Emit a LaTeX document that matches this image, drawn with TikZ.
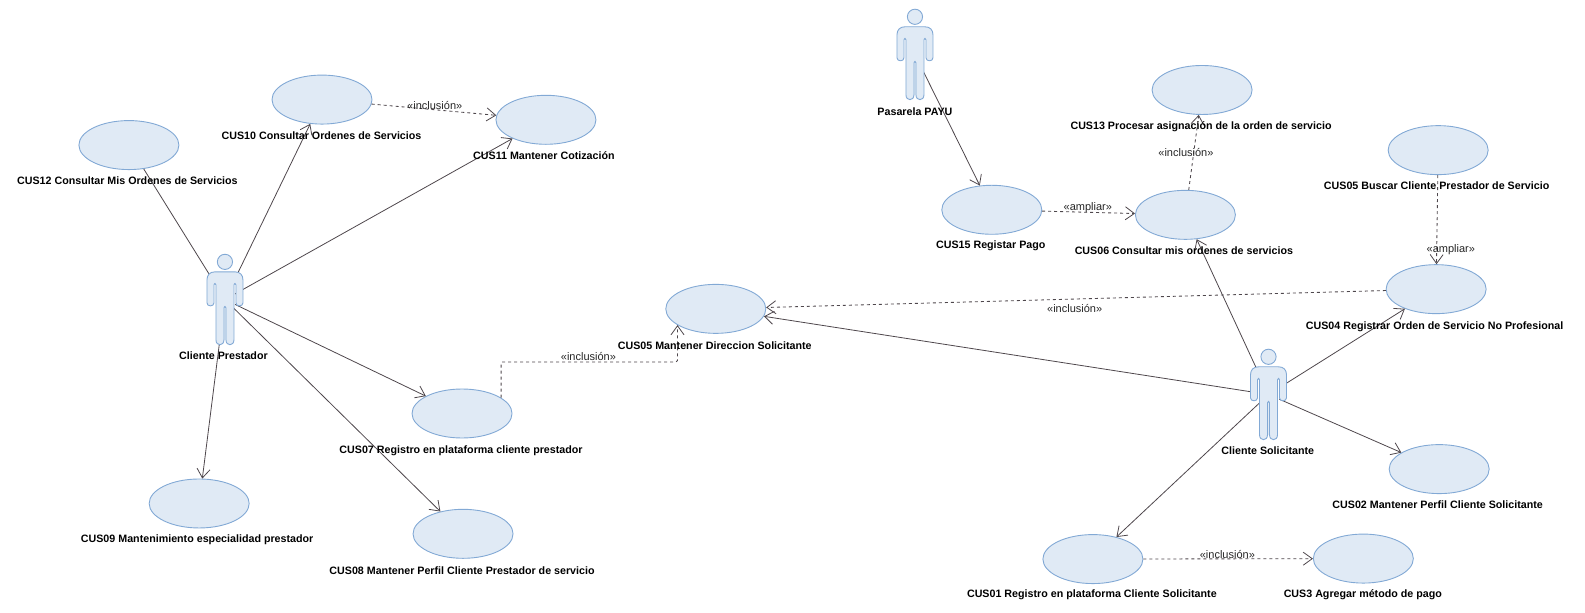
\documentclass[tikz,border=0pt]{standalone}
\usepackage{fontspec}
\setmainfont{Liberation Sans}
\usetikzlibrary{arrows.meta,shapes.geometric}
\definecolor{ucfill}{HTML}{E0EAF5}
\definecolor{ucline}{HTML}{82A9D5}
\definecolor{conn}{HTML}{4E474C}
\tikzset{
  usecase/.style={ellipse,draw=ucline,fill=ucfill,line width=0.9pt,minimum width=100pt,minimum height=49pt,inner sep=0pt},
  actorbox/.style={rectangle,minimum width=36pt,minimum height=91pt,inner sep=0pt},
  uclabel/.style={font=\bfseries\fontsize{10.7}{12}\selectfont,text=black,inner sep=0pt},
  stereo/.style={font=\fontsize{11}{12}\selectfont,text=black!85,inner sep=0pt},
  assoc/.style={conn,line width=0.8pt,-{Straight Barb[length=9pt,width=13pt,line width=0.8pt]}},
  plainassoc/.style={conn,line width=0.8pt},
  dep/.style={conn,line width=0.85pt,dash pattern=on 3pt off 3pt,-{Straight Barb[length=9pt,width=13pt,line width=0.8pt]}},
  actorfig/.pic={
    \begin{scope}[x=1pt,y=-1pt]
      \fill[white] (-10.5,29) rectangle (10.5,52);
      \fill[ucfill] (-1.5,50) rectangle (1.5,86);
      \draw[ucline,fill=ucfill,line width=0.9pt] (0,8) circle (7.6pt);
      \draw[ucline,fill=ucfill,line width=0.9pt,line join=round]
        (-10,18) .. controls (-15,18) and (-18,21) .. (-18,26)
        -- (-18,49) .. controls (-18,53) and (-11,53) .. (-11,49)
        -- (-11,31) .. controls (-11,29) and (-9,29) .. (-9,31)
        -- (-9,86) .. controls (-9,92.5) and (-1,92.5) .. (-1,86)
        -- (-1,54) .. controls (-1,52) and (1,52) .. (1,54)
        -- (1,86) .. controls (1,92.5) and (9,92.5) .. (9,86)
        -- (9,31) .. controls (9,29) and (11,29) .. (11,31)
        -- (11,49) .. controls (11,53) and (18,53) .. (18,49)
        -- (18,26) .. controls (18,21) and (15,18) .. (10,18) -- cycle;
    \end{scope}
  }
}
\begin{document}
\begin{tikzpicture}[x=1.011pt,y=-1.011pt]
\useasboundingbox (0,0) rectangle (1567.75,606.33);
% use cases
\foreach \n/\x/\y in {ten/318.5/98.5,eleven/540/118.5,twelve/127.5/143.5,seven/457/409,nine/197/498,eight/458/528,mdir/708/305.5,fifteen/981/207.5,thirteen/1189/89,six/1172.5/212.5,buscar/1422.5/148.5,four/1420.5/286,two/1423.5/464,one/1081/553,three/1348.5/552.5}
  \node[usecase] (c\n) at (\x,\y) {};
% actors
\node[actorbox] (prestador) at (222.5,296.3) {};
\node[actorbox] (payu) at (905,53.9) {};
\node[actorbox] (solicitante) at (1254.7,390.2) {};
% associations (start at the centre of the actor, hidden behind the figure)
\draw[plainassoc] (prestador.center) -- (ctwelve);
\draw[assoc] (prestador.center) -- (cten);
\draw[assoc] (prestador.center) -- (celeven);
\draw[assoc] (prestador.center) -- (cseven);
\draw[assoc] (prestador.center) -- (cnine);
\draw[assoc] (prestador.center) -- (ceight);
\draw[assoc] (payu.center) -- (cfifteen);
\draw[assoc] (solicitante.center) -- (cmdir);
\draw[assoc] (solicitante.center) -- (csix);
\draw[assoc] (solicitante.center) -- (cfour);
\draw[assoc] (solicitante.center) -- (ctwo);
\draw[assoc] (solicitante.center) -- (cone);
% dependencies
\draw[dep] (cten) -- (celeven);
\coordinate (bendA) at (cseven.22 |- 0,358);
\coordinate (bendB) at (cmdir.203.5 |- 0,358);
\draw[dep,rounded corners=1.5pt] (cseven.22) -- (bendA) -- (bendB) -- (cmdir.203.5);
\draw[dep] (cfifteen) -- (csix);
\draw[dep] (csix) -- (cthirteen);
\draw[dep] (cbuscar) -- (cfour);
\draw[dep] (cfour) -- (cmdir);
\draw[dep] (cone) -- (cthree);
% actor figures
\foreach \a in {prestador,payu,solicitante}
  \pic at (\a.north) {actorfig};
% labels
\node[uclabel] (lten) at (318,134) {CUS10 Consultar Ordenes de Servicios};
\node[uclabel] (leleven) at (538,154) {CUS11 Mantener Cotización};
\node[uclabel] (ltwelve) at (126,179) {CUS12 Consultar Mis Ordenes de Servicios};
\node[uclabel] (lseven) at (456,446) {CUS07 Registro en plataforma cliente prestador};
\node[uclabel] (lnine) at (195,534) {CUS09 Mantenimiento especialidad prestador};
\node[uclabel] (leight) at (457,564) {CUS08 Mantener Perfil Cliente Prestador de servicio};
\node[uclabel] (lmdir) at (707,342) {CUS05 Mantener Direccion Solicitante};
\node[uclabel] (lfifteen) at (980,243) {CUS15 Registar Pago};
\node[uclabel] (lthirteen) at (1188,125) {CUS13 Procesar asignación de la orden de servicio};
\node[uclabel] (lsix) at (1171,248) {CUS06 Consultar mis ordenes de servicios};
\node[uclabel] (lbuscar) at (1421,184) {CUS05 Buscar Cliente Prestador de Servicio};
\node[uclabel] (lfour) at (1419,323) {CUS04 Registrar Orden de Servicio No Profesional};
\node[uclabel] (ltwo) at (1422,499) {CUS02 Mantener Perfil Cliente Solicitante};
\node[uclabel] (lone) at (1080,588) {CUS01 Registro en plataforma Cliente Solicitante};
\node[uclabel] (lthree) at (1348,588) {CUS3 Agregar método de pago};
\node[uclabel] (lprestador) at (221,352) {Cliente Prestador};
\node[uclabel] (lpayu) at (905,110) {Pasarela PAYU};
\node[uclabel] (lsolicitante) at (1254,446) {Cliente Solicitante};
% stereotypes
\node[stereo] (s1) at (430,104) {«inclusión»};
\node[stereo] (s2) at (582,353) {«inclusión»};
\node[stereo] (s3) at (1076,205) {«ampliar»};
\node[stereo] (s4) at (1173,151) {«inclusión»};
\node[stereo] (s5) at (1435,247) {«ampliar»};
\node[stereo] (s6) at (1063,305) {«inclusión»};
\node[stereo] (s7) at (1214,548) {«inclusión»};
\end{tikzpicture}
\end{document}
